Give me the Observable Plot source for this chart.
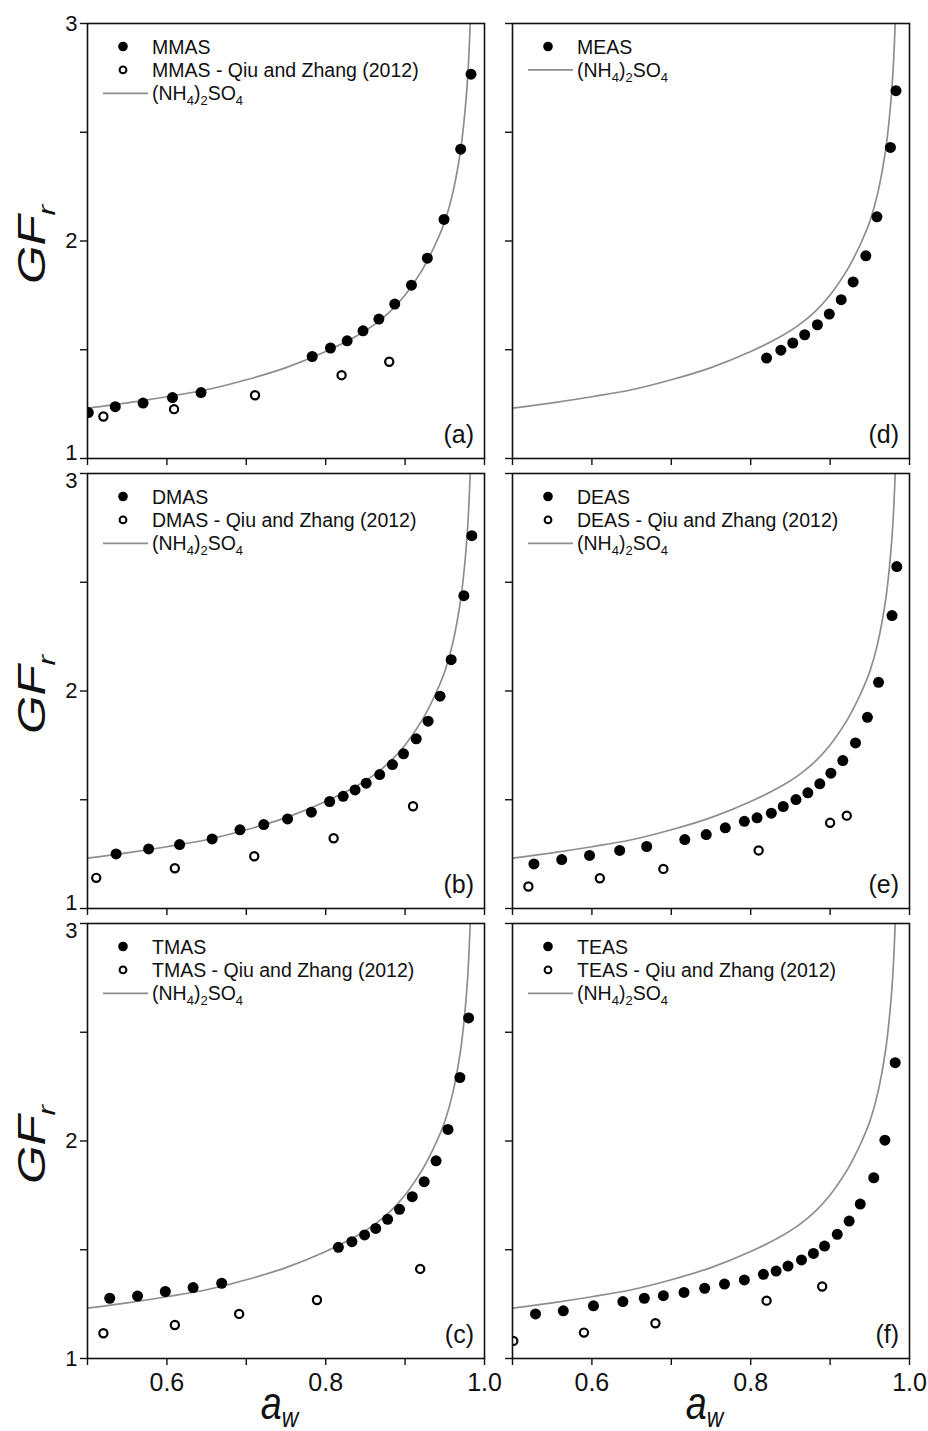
<!DOCTYPE html>
<html>
<head>
<meta charset="utf-8">
<script src="https://cdn.jsdelivr.net/npm/d3@7"></script>
<script src="https://cdn.jsdelivr.net/npm/@observablehq/plot@0.6"></script>
<style>
  html, body { margin: 0; padding: 0; background: #ffffff; }
  #fig { position: relative; width: 928px; height: 1431px; overflow: hidden; background: #ffffff; }
  #fig svg { position: absolute; }
</style>
</head>
<body>
<div id="fig"></div>
<script>
// ---------- data ----------
// (NH4)2SO4 reference curve (same in every panel)
const asAw = [0.50, 0.55, 0.60, 0.65, 0.70, 0.75, 0.80, 0.84, 0.86, 0.88, 0.90, 0.92, 0.93, 0.94, 0.95, 0.96, 0.97, 0.975, 0.978, 0.980, 0.982];
const asGF = [1.232, 1.256, 1.284, 1.316, 1.362, 1.418, 1.492, 1.565, 1.612, 1.672, 1.752, 1.858, 1.924, 2.000, 2.090, 2.220, 2.420, 2.580, 2.710, 2.830, 3.000];

// (a) MMAS
const mmasAw = [0.501, 0.535, 0.570, 0.607, 0.643, 0.783, 0.806, 0.827, 0.847, 0.867, 0.887, 0.908, 0.928, 0.949, 0.970, 0.983];
const mmasGF = [1.211, 1.238, 1.255, 1.280, 1.303, 1.469, 1.508, 1.541, 1.587, 1.641, 1.710, 1.797, 1.921, 2.099, 2.422, 2.767];
const mmasQiuAw = [0.520, 0.609, 0.711, 0.820, 0.880];
const mmasQiuGF = [1.193, 1.227, 1.291, 1.383, 1.445];

// (b) DMAS
const dmasAw = [0.536, 0.577, 0.616, 0.657, 0.692, 0.722, 0.752, 0.782, 0.805, 0.822, 0.837, 0.851, 0.868, 0.884, 0.898, 0.914, 0.929, 0.944, 0.958, 0.974, 0.984];
const dmasGF = [1.251, 1.274, 1.294, 1.320, 1.362, 1.386, 1.412, 1.443, 1.492, 1.516, 1.545, 1.576, 1.616, 1.662, 1.711, 1.780, 1.861, 1.976, 2.144, 2.438, 2.714];
const dmasQiuAw = [0.511, 0.610, 0.710, 0.810, 0.910];
const dmasQiuGF = [1.141, 1.185, 1.240, 1.323, 1.470];

// (c) TMAS
const tmasAw = [0.528, 0.563, 0.598, 0.633, 0.669, 0.816, 0.833, 0.849, 0.863, 0.878, 0.893, 0.909, 0.924, 0.939, 0.954, 0.969, 0.980];
const tmasGF = [1.277, 1.287, 1.308, 1.326, 1.346, 1.511, 1.537, 1.568, 1.598, 1.640, 1.686, 1.744, 1.813, 1.909, 2.053, 2.292, 2.566];
const tmasQiuAw = [0.520, 0.610, 0.691, 0.789, 0.919];
const tmasQiuGF = [1.116, 1.154, 1.205, 1.269, 1.412];

// (d) MEAS
const measAw = [0.820, 0.838, 0.853, 0.868, 0.884, 0.899, 0.914, 0.929, 0.945, 0.959, 0.976, 0.983];
const measGF = [1.462, 1.498, 1.531, 1.569, 1.615, 1.664, 1.730, 1.812, 1.932, 2.111, 2.430, 2.691];

// (e) DEAS
const deasAw = [0.527, 0.562, 0.597, 0.635, 0.669, 0.717, 0.744, 0.768, 0.792, 0.808, 0.826, 0.841, 0.857, 0.872, 0.887, 0.901, 0.916, 0.932, 0.947, 0.961, 0.978, 0.984];
const deasGF = [1.205, 1.225, 1.244, 1.267, 1.285, 1.317, 1.340, 1.371, 1.401, 1.417, 1.438, 1.469, 1.501, 1.532, 1.573, 1.622, 1.680, 1.761, 1.879, 2.040, 2.347, 2.572];
const deasQiuAw = [0.520, 0.610, 0.690, 0.810, 0.900, 0.921];
const deasQiuGF = [1.101, 1.139, 1.182, 1.267, 1.394, 1.427];

// (f) TEAS
const teasAw = [0.529, 0.564, 0.602, 0.639, 0.666, 0.690, 0.716, 0.742, 0.767, 0.792, 0.816, 0.832, 0.847, 0.864, 0.879, 0.893, 0.909, 0.924, 0.938, 0.955, 0.969, 0.982];
const teasGF = [1.205, 1.219, 1.242, 1.262, 1.277, 1.289, 1.304, 1.323, 1.342, 1.361, 1.387, 1.402, 1.425, 1.453, 1.483, 1.517, 1.571, 1.632, 1.710, 1.831, 2.004, 2.360];
const teasQiuAw = [0.501, 0.590, 0.680, 0.820, 0.890];
const teasQiuGF = [1.081, 1.119, 1.162, 1.266, 1.331];

// axes
const xDomain = [0.5, 1.0];
const yDomain = [1, 3];
const xTicks = [0.5, 0.6, 0.7, 0.8, 0.9, 1.0];
const xLabelTicks = [0.6, 0.8, 1.0];
const xTickLabels = ["0.6", "0.8", "1.0"];
const yTicks = [1, 1.5, 2, 2.5, 3];
const yLabelTicks = [1, 2, 3];
const yTickLabels = ["1", "2", "3"];
const panelIds = ["(a)", "(b)", "(c)", "(d)", "(e)", "(f)"];
const seriesNames = ["MMAS", "DMAS", "TMAS", "MEAS", "DEAS", "TEAS"];
const qiuSuffix = " - Qiu and Zhang (2012)";

// ---------- build ----------
const zip = (a, b) => a.map((v, i) => ({aw: v, gf: b[i]}));
const asRows = zip(asAw, asGF);

const panels = [
  {col: 0, row: 0, filled: zip(mmasAw, mmasGF), open: zip(mmasQiuAw, mmasQiuGF)},
  {col: 0, row: 1, filled: zip(dmasAw, dmasGF), open: zip(dmasQiuAw, dmasQiuGF)},
  {col: 0, row: 2, filled: zip(tmasAw, tmasGF), open: zip(tmasQiuAw, tmasQiuGF)},
  {col: 1, row: 0, filled: zip(measAw, measGF), open: null},
  {col: 1, row: 1, filled: zip(deasAw, deasGF), open: zip(deasQiuAw, deasQiuGF)},
  {col: 1, row: 2, filled: zip(teasAw, teasGF), open: zip(teasQiuAw, teasQiuGF)}
];

const fig = document.getElementById("fig");
const PW = 397, PH = 435;
const colLeft = [0, 425];
const rowTop = [0, 450, 900];
const curveColor = "#8e8e8e";
const sansFont = "'Liberation Sans', Arial, sans-serif";

// horizontally condense a text element in place (mimics a narrow face)
function squeeze(el, sx) {
  const x = +el.getAttribute("x") || 0, y = +el.getAttribute("y") || 0;
  el.removeAttribute("x"); el.removeAttribute("y");
  const tr = el.getAttribute("transform") || "";
  el.setAttribute("transform", `${tr} translate(${x},${y}) scale(${sx},1)`);
}

panels.forEach((p) => {
  const isLeft = p.col === 0;
  const isBottom = p.row === 2;
  const mL = 87, mR = 19, mT = 23, mB = isBottom ? 73 : 23;
  const marks = [
    Plot.line(asRows, {x: "aw", y: "gf", stroke: curveColor, strokeWidth: 1.7, curve: "catmull-rom", clip: true})
  ];
  if (p.open) {
    marks.push(Plot.dot(p.open, {x: "aw", y: "gf", r: 4.1, stroke: "black", strokeWidth: 2.2, fill: "white", clip: true}));
  }
  marks.push(
    Plot.dot(p.filled, {x: "aw", y: "gf", r: 5.5, fill: "black", stroke: "none", clip: true}),
    Plot.axisX(xTicks, {tickSize: 7, strokeWidth: 1.4, label: null, tickFormat: () => ""}),
    Plot.axisY(yTicks, {tickSize: 7, strokeWidth: 1.4, label: null, tickFormat: () => ""}),
    Plot.frame({stroke: "#111", strokeWidth: 1.6})
  );
  if (isBottom) {
    marks.push(Plot.text(xLabelTicks, {
      x: (d) => d, text: (d) => xTickLabels[xLabelTicks.indexOf(d)],
      frameAnchor: "bottom", lineAnchor: "top", dy: 15,
      fontSize: 25, fontFamily: sansFont, fill: "#111", ariaLabel: "x-tick-labels"
    }));
  }
  if (isLeft) {
    // "1" and "3" are nudged apart where two panels meet, as in the original
    const nudge = (d) => (d === 1 && p.row < 2) ? -6 : (d === 3 && p.row > 0) ? 7 : 0;
    [1, 2, 3].forEach((v) => {
      marks.push(Plot.text([v], {
        y: (d) => d, text: (d) => yTickLabels[yLabelTicks.indexOf(d)],
        frameAnchor: "left", textAnchor: "end", dx: -10, dy: nudge(v),
        fontSize: 22, fontFamily: sansFont, fill: "#111", ariaLabel: "y-tick-labels"
      }));
    });
  }

  const chart = Plot.plot({
    width: mL + PW + mR,
    height: mT + PH + mB,
    marginLeft: mL, marginRight: mR, marginTop: mT, marginBottom: mB,
    style: {background: "transparent", overflow: "visible", fontFamily: sansFont, color: "#111"},
    x: {domain: xDomain, axis: null},
    y: {domain: yDomain, axis: null},
    marks
  });
  chart.style.left = colLeft[p.col] + "px";
  chart.style.top = rowTop[p.row] + "px";
  fig.appendChild(chart);

  chart.querySelectorAll('g[aria-label="x-tick-labels"] text').forEach((el) => squeeze(el, 0.8));

  const svg = d3.select(chart);
  const idx = p.col * 3 + p.row;
  const name = seriesNames[idx];
  const label = panelIds[idx];

  // legend (inside the frame, top-left)
  const lg = svg.append("g")
    .attr("transform", `translate(${mL},${mT})`)
    .attr("font-family", sansFont)
    .attr("font-size", 19.5)
    .attr("text-anchor", "start")
    .attr("fill", "#111");
  let row = 0;
  const rowY = (k) => 23.5 + k * 23.4;
  lg.append("circle").attr("cx", 36).attr("cy", rowY(row)).attr("r", 4.8).attr("fill", "black");
  lg.append("text").attr("x", 65).attr("y", rowY(row) + 7).text(name);
  row++;
  if (p.open) {
    lg.append("circle").attr("cx", 36).attr("cy", rowY(row)).attr("r", 3.4)
      .attr("fill", "white").attr("stroke", "black").attr("stroke-width", 2);
    lg.append("text").attr("x", 65).attr("y", rowY(row) + 7).text(name + qiuSuffix);
    row++;
  }
  lg.append("line").attr("x1", 16).attr("x2", 61).attr("y1", rowY(row)).attr("y2", rowY(row))
    .attr("stroke", curveColor).attr("stroke-width", 1.7);
  const t = lg.append("text").attr("x", 65).attr("y", rowY(row) + 7);
  t.append("tspan").text("(NH");
  t.append("tspan").attr("font-size", 13).attr("dy", 5).text("4");
  t.append("tspan").attr("dy", -5).text(")");
  t.append("tspan").attr("font-size", 13).attr("dy", 5).text("2");
  t.append("tspan").attr("dy", -5).text("SO");
  t.append("tspan").attr("font-size", 13).attr("dy", 5).text("4");

  // panel letter
  svg.append("text")
    .attr("x", mL + PW - 10).attr("y", mT + PH - 15)
    .attr("text-anchor", "end")
    .attr("font-family", sansFont).attr("font-size", 25).attr("fill", "#111")
    .text(label);

  // y-axis title on left column
  if (isLeft) {
    const yt = svg.append("text")
      .attr("transform", `translate(45,${mT + PH / 2 + 4}) rotate(-90) scale(1.3,1)`)
      .attr("text-anchor", "middle")
      .attr("font-family", sansFont).attr("font-style", "italic")
      .attr("font-size", 38).attr("fill", "#111");
    yt.append("tspan").text("GF");
    yt.append("tspan").attr("font-size", 24).attr("dy", 10).text("r");
  }
  // x-axis title on bottom row
  if (isBottom) {
    const xt = svg.append("text")
      .attr("transform", `translate(${mL + PW / 2 - 6},${mT + PH + 61}) scale(0.82,1)`)
      .attr("text-anchor", "middle")
      .attr("font-family", sansFont).attr("font-style", "italic")
      .attr("font-size", 46).attr("fill", "#111");
    xt.append("tspan").text("a");
    xt.append("tspan").attr("font-size", 28).attr("dy", 8).text("w");
  }
});
</script>
</body>
</html>
